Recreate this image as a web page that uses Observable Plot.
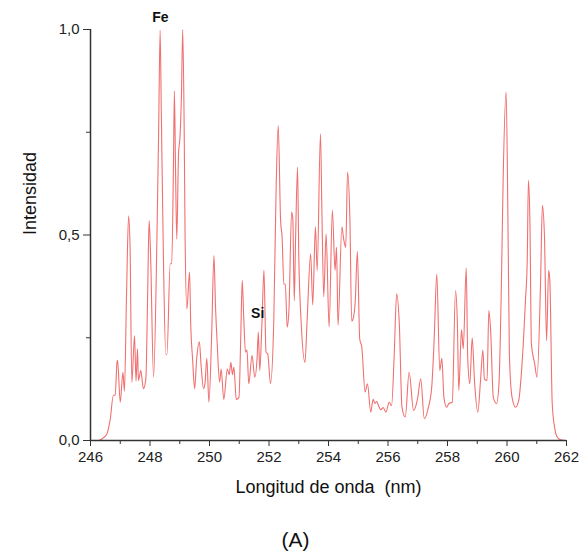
<!DOCTYPE html>
<html>
<head>
<meta charset="utf-8">
<script src="https://cdn.jsdelivr.net/npm/d3@7"></script>
<script src="https://cdn.jsdelivr.net/npm/@observablehq/plot@0.6"></script>
<style>
  body { margin: 0; background: #fff; }
  #wrap { width: 587px; font-family: "Liberation Sans", Arial, sans-serif; }
  #caption { text-align: center; font-size: 21px; color: #111; margin-top: 23px; padding-left: 4px; }
</style>
</head>
<body>
<div id="wrap">
  <div id="chart"></div>
  <div id="caption">(A)</div>
</div>
<script>
// Wavelength (nm) and relative intensity
const wavelength = [
  246.00, 246.27, 246.40, 246.55, 246.66, 246.77, 246.83, 246.89, 246.91, 247.00,
  247.09, 247.14, 247.21, 247.28, 247.33, 247.39, 247.48, 247.53, 247.58, 247.61,
  247.69, 247.78, 247.86, 247.92, 247.97, 248.02, 248.12, 248.23, 248.29, 248.34,
  248.38, 248.45, 248.53, 248.57, 248.68, 248.73, 248.79, 248.82, 248.86, 248.90,
  248.96, 249.01, 249.06, 249.10, 249.15, 249.18, 249.24, 249.33, 249.37, 249.43,
  249.50, 249.57, 249.66, 249.72, 249.80, 249.85, 249.91, 249.98,
  250.07, 250.15, 250.20, 250.26, 250.34, 250.39, 250.48, 250.60, 250.66, 250.72,
  250.77, 250.82, 250.90, 250.99, 251.05, 251.10, 251.15, 251.21, 251.26, 251.32,
  251.43, 251.52, 251.60, 251.64, 251.69, 251.76, 251.83, 251.90, 251.96, 252.05,
  252.16, 252.24, 252.31, 252.39, 252.44, 252.50, 252.55, 252.61, 252.67, 252.76,
  252.80, 252.85, 252.89, 252.96, 253.00, 253.09, 253.21, 253.28, 253.40, 253.47,
  253.56, 253.62, 253.73, 253.78, 253.84, 253.92,
  254.02, 254.13, 254.22, 254.27, 254.32, 254.45, 254.51, 254.58, 254.64, 254.72,
  254.78, 254.84, 254.90, 254.97, 255.05, 255.12, 255.23, 255.31, 255.42, 255.50,
  255.56, 255.62, 255.68, 255.76, 255.84, 255.93, 256.04, 256.12, 256.21, 256.29,
  256.38, 256.47, 256.58, 256.71, 256.86, 256.99, 257.10, 257.22, 257.36, 257.47,
  257.55, 257.64, 257.74, 257.81,
  257.88, 257.97, 258.05, 258.16, 258.27, 258.33, 258.38, 258.47, 258.53, 258.63,
  258.68, 258.75, 258.83, 258.91, 259.02, 259.11, 259.19, 259.24, 259.33, 259.39,
  259.45, 259.54, 259.65, 259.73, 259.81, 259.87, 259.97, 260.03, 260.08, 260.17,
  260.29, 260.40, 260.49, 260.62, 260.68, 260.72, 260.77, 260.82, 260.93, 261.01,
  261.13, 261.19, 261.26, 261.33, 261.40, 261.44, 261.52, 261.60, 261.69, 261.80,
  261.97
];
const intensity = [
  0.000, 0.000, 0.005, 0.016, 0.050, 0.110, 0.110, 0.190, 0.195, 0.093,
  0.166, 0.120, 0.350, 0.547, 0.470, 0.142, 0.255, 0.145, 0.223, 0.146,
  0.170, 0.126, 0.150, 0.350, 0.535, 0.450, 0.154, 0.480, 0.750, 0.998,
  0.800, 0.450, 0.210, 0.210, 0.430, 0.430, 0.680, 0.850, 0.650, 0.490,
  0.700, 0.740, 0.850, 1.000, 0.750, 0.490, 0.320, 0.410, 0.280, 0.200,
  0.126, 0.200, 0.240, 0.180, 0.126, 0.140, 0.200, 0.093,
  0.250, 0.450, 0.330, 0.235, 0.142, 0.174, 0.100, 0.174, 0.160, 0.190,
  0.160, 0.178, 0.100, 0.105, 0.250, 0.390, 0.300, 0.215, 0.220, 0.138,
  0.207, 0.154, 0.200, 0.264, 0.170, 0.280, 0.414, 0.215, 0.210, 0.138,
  0.290, 0.616, 0.766, 0.535, 0.495, 0.380, 0.380, 0.276, 0.316, 0.556,
  0.540, 0.340, 0.478, 0.665, 0.454, 0.276, 0.190, 0.290, 0.454, 0.330,
  0.520, 0.414, 0.746, 0.550, 0.350, 0.503,
  0.276, 0.560, 0.414, 0.470, 0.280, 0.520, 0.490, 0.470, 0.653, 0.535,
  0.290, 0.300, 0.340, 0.460, 0.247, 0.227, 0.118, 0.138, 0.069, 0.100,
  0.090, 0.095, 0.085, 0.075, 0.080, 0.069, 0.093, 0.085, 0.210, 0.357,
  0.284, 0.081, 0.057, 0.166, 0.073, 0.100, 0.150, 0.053, 0.081, 0.130,
  0.243, 0.405, 0.170, 0.200,
  0.105, 0.081, 0.090, 0.093, 0.365, 0.290, 0.122, 0.270, 0.223, 0.420,
  0.200, 0.138, 0.250, 0.142, 0.069, 0.146, 0.220, 0.150, 0.146, 0.316,
  0.268, 0.105, 0.090, 0.138, 0.373, 0.633, 0.848, 0.550, 0.210, 0.105,
  0.081, 0.100, 0.170, 0.340, 0.438, 0.633, 0.535, 0.235, 0.187, 0.154,
  0.390, 0.572, 0.495, 0.243, 0.414, 0.390, 0.090, 0.032, 0.008, 0.002,
  0.000
];

const xMajorTicks = [246, 248, 250, 252, 254, 256, 258, 260, 262];
const xMinorTicks = [247, 249, 251, 253, 255, 257, 259, 261];
const yMajorTicks = [0, 0.5, 1];
const yMinorTicks = [0.25, 0.75];

const peakLabels = ["Fe", "Si"];
const peakX = [248.35, 251.62];
const peakY = [1.03, 0.31];

const xTitle = "Longitud de onda\u00a0 (nm)";
const yTitle = "Intensidad";

const spectrum = wavelength.map((w, i) => ({w, v: intensity[i]}));
const labels = peakLabels.map((t, i) => ({t, x: peakX[i], y: peakY[i]}));
const axisColor = "#333";

const chart = Plot.plot({
  width: 587,
  height: 505,
  marginLeft: 90,
  marginRight: 21,
  marginTop: 29,
  marginBottom: 65,
  style: {fontFamily: "'Liberation Sans', Arial, sans-serif", fontSize: "15px", color: "#222", background: "#fff"},
  x: {domain: [246, 262]},
  y: {domain: [0, 1]},
  marks: [
    Plot.line(spectrum, {x: "w", y: "v", stroke: "#f07070", strokeWidth: 1.1, curve: "monotone-x"}),
    Plot.axisX({ticks: xMajorTicks, tickSize: 6, tickPadding: 5, tickFormat: d => String(d), label: null, stroke: axisColor, fontSize: 15}),
    Plot.axisX({ticks: xMinorTicks, tickSize: 4, tickFormat: () => "", label: null, stroke: axisColor}),
    Plot.axisY({ticks: yMajorTicks, tickSize: 7, tickPadding: 4, tickFormat: d => d.toFixed(1).replace(".", ","), label: null, stroke: axisColor, fontSize: 15}),
    Plot.axisY({ticks: yMinorTicks, tickSize: 4, tickFormat: () => "", label: null, stroke: axisColor}),
    Plot.ruleY([0], {stroke: axisColor, strokeWidth: 1.5}),
    Plot.ruleX([246], {stroke: axisColor, strokeWidth: 1.5}),
    Plot.text(labels, {x: "x", y: "y", text: "t", fontWeight: "bold", fontSize: 14, fill: "#111"}),
    Plot.text([xTitle], {frameAnchor: "bottom", dy: 52, fontSize: 18, fill: "#111"}),
    Plot.text([yTitle], {frameAnchor: "left", dx: -60, rotate: -90, fontSize: 18, fill: "#111"})
  ]
});
document.getElementById("chart").appendChild(chart);
</script>
</body>
</html>
